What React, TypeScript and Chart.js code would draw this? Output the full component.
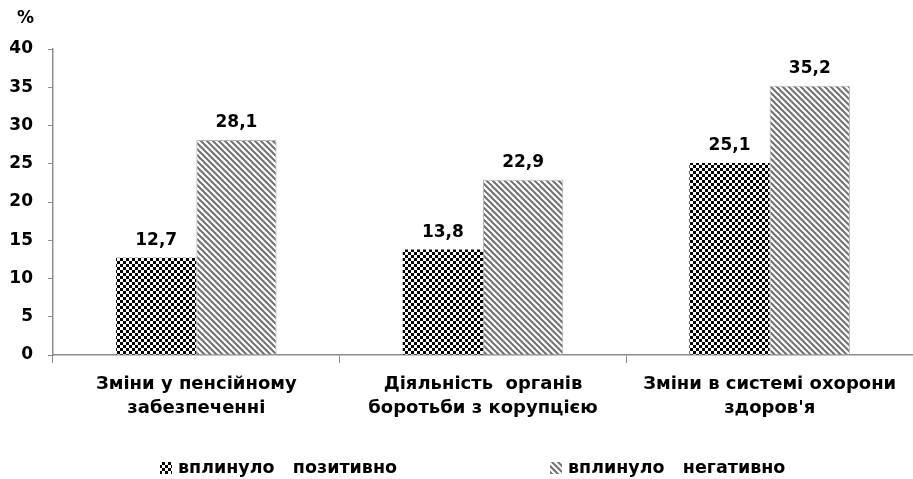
import React, { useEffect, useRef } from "react";
import { Chart, registerables } from "chart.js";

Chart.register(...registerables);

const categories: string[][] = [
  ["Зміни у пенсійному", "забезпеченні"],
  ["Діяльність  органів", "боротьби з корупцією"],
  ["Зміни в системі охорони", "здоров'я"],
];
const positiveValues = [12.7, 13.8, 25.1];
const negativeValues = [28.1, 22.9, 35.2];
const seriesLabels = ["вплинуло   позитивно", "вплинуло   негативно"];
const yTicks = [0, 5, 10, 15, 20, 25, 30, 35, 40];

const FONT = "'DejaVu Sans', 'Noto Sans', sans-serif";

function makeChecker(): CanvasPattern | string {
  const c = document.createElement("canvas");
  const s = 3;
  c.width = s * 2;
  c.height = s * 2;
  const ctx = c.getContext("2d")!;
  ctx.fillStyle = "#ffffff";
  ctx.fillRect(0, 0, s * 2, s * 2);
  ctx.fillStyle = "#000000";
  ctx.fillRect(0, 0, s, s);
  ctx.fillRect(s, s, s, s);
  return ctx.createPattern(c, "repeat") || "#333";
}

function makeStripes(): CanvasPattern | string {
  const c = document.createElement("canvas");
  const s = 6;
  c.width = s;
  c.height = s;
  const ctx = c.getContext("2d")!;
  ctx.fillStyle = "#ffffff";
  ctx.fillRect(0, 0, s, s);
  ctx.strokeStyle = "#707070";
  ctx.lineWidth = 2;
  ctx.beginPath();
  ctx.moveTo(-1, -1);
  ctx.lineTo(s + 1, s + 1);
  ctx.moveTo(-1, s - 1);
  ctx.lineTo(1, s + 1);
  ctx.moveTo(s - 1, -1);
  ctx.lineTo(s + 1, 1);
  ctx.stroke();
  return ctx.createPattern(c, "repeat") || "#888";
}

const fmt = (v: number) => v.toFixed(1).replace(".", ",");

export default function App() {
  const ref = useRef<HTMLCanvasElement | null>(null);

  useEffect(() => {
    document.body.style.margin = "0";
    const canvas = ref.current!;
    const checker = makeChecker();
    const stripes = makeStripes();

    const extras = {
      id: "extras",
      afterDatasetsDraw(chart: any) {
        const ctx = chart.ctx;
        ctx.save();
        ctx.fillStyle = "#000";
        ctx.font = `bold 17px ${FONT}`;
        ctx.textAlign = "center";
        ctx.textBaseline = "middle";
        chart.data.datasets.forEach((ds: any, i: number) => {
          const meta = chart.getDatasetMeta(i);
          meta.data.forEach((bar: any, j: number) => {
            ctx.fillText(fmt(ds.data[j]), bar.x, bar.y - 17);
          });
        });
        // "%" unit label
        ctx.font = `bold 17px ${FONT}`;
        ctx.textAlign = "left";
        ctx.textBaseline = "middle";
        ctx.fillText("%", 17, 19);
        // legend
        const legendY = 468;
        const legendX = [160, 550];
        ctx.font = `bold 17.5px ${FONT}`;
        chart.data.datasets.forEach((ds: any, i: number) => {
          const x = legendX[i];
          ctx.fillStyle = ds.backgroundColor;
          ctx.fillRect(x, legendY - 6, 12, 12);
          ctx.fillStyle = "#000";
          ctx.textAlign = "left";
          ctx.textBaseline = "middle";
          ctx.fillText(ds.label, x + 18, legendY);
        });
        ctx.restore();
      },
    };

    const chart = new Chart(canvas, {
      type: "bar",
      data: {
        labels: categories,
        datasets: [
          {
            label: seriesLabels[0],
            data: positiveValues,
            backgroundColor: checker as any,
            borderWidth: 0,
            categoryPercentage: 0.56,
            barPercentage: 1,
          },
          {
            label: seriesLabels[1],
            data: negativeValues,
            backgroundColor: stripes as any,
            borderColor: "#b5b5b5",
            borderWidth: 1,
            categoryPercentage: 0.56,
            barPercentage: 1,
          },
        ],
      },
      options: {
        animation: false,
        responsive: true,
        maintainAspectRatio: false,
        layout: { padding: { top: 49, left: 0, right: 0, bottom: 0 } },
        plugins: {
          legend: { display: false },
          tooltip: { enabled: false },
          title: { display: false },
        },
        scales: {
          x: {
            grid: {
              display: true,
              drawOnChartArea: false,
              drawTicks: true,
              tickLength: 8,
              color: "#8c8c8c",
              offset: true,
            },
            border: { display: true, color: "#8c8c8c", width: 1.5 },
            ticks: {
              color: "#000",
              font: { family: FONT, size: 18, weight: "bold", lineHeight: 1.3 },
              padding: 10,
              maxRotation: 0,
              autoSkip: false,
            },
            afterFit(scale: any) {
              scale.height = 124;
            },
          },
          y: {
            min: 0,
            max: 40,
            afterBuildTicks(scale: any) {
              scale.ticks = yTicks.map((v) => ({ value: v }));
            },
            grid: {
              display: true,
              drawOnChartArea: false,
              drawTicks: true,
              tickLength: 5,
              color: "#8c8c8c",
            },
            border: { display: true, color: "#8c8c8c", width: 1.5 },
            ticks: {
              color: "#000",
              font: { family: FONT, size: 17, weight: "bold" },
              padding: 15,
            },
            afterFit(scale: any) {
              scale.width = 53;
            },
          },
        },
      },
      plugins: [extras],
    });
    return () => chart.destroy();
  }, []);

  return (
    <div style={{ width: "913px", height: "479px", position: "relative" }}>
      <canvas ref={ref} />
    </div>
  );
}
